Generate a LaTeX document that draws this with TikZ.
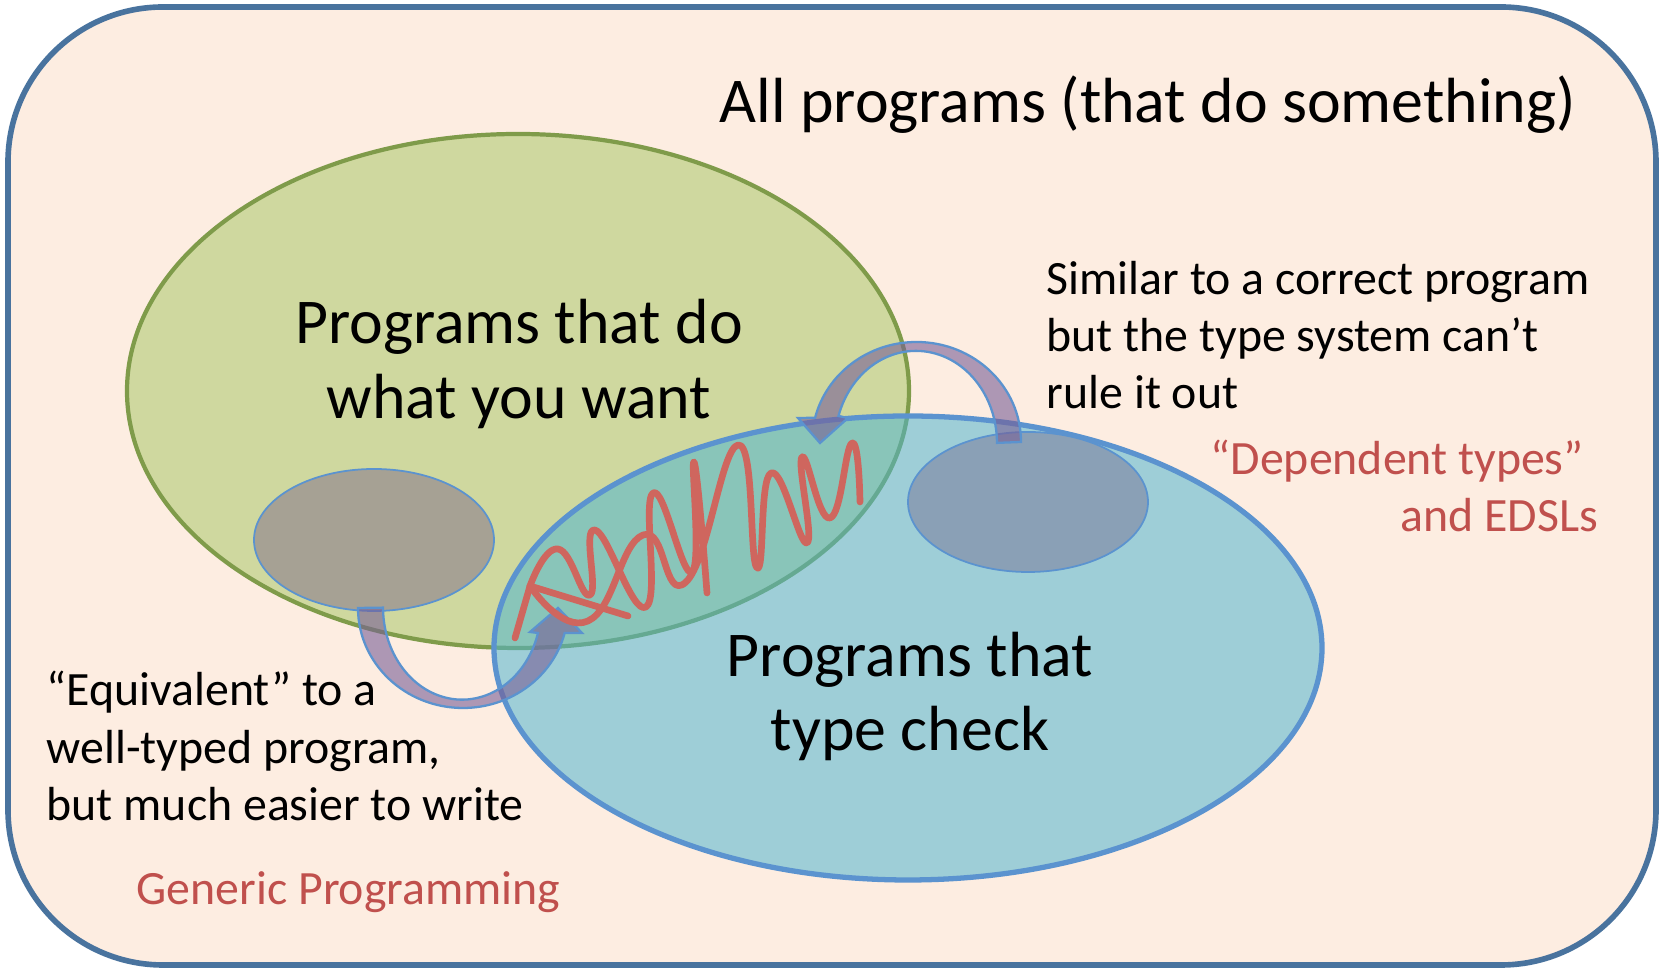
\documentclass[tikz,border=0pt]{standalone}
\usepackage{fontspec}
\setmainfont{Carlito}
\definecolor{bgfill}{RGB}{253,237,225}
\definecolor{bgline}{RGB}{73,115,158}
\definecolor{grfill}{RGB}{207,216,159}
\definecolor{grline}{RGB}{127,155,74}
\definecolor{blfill}{RGB}{79,181,208}
\definecolor{blline}{RGB}{91,147,207}
\definecolor{gyfill}{RGB}{166,161,148}
\definecolor{rtfill}{RGB}{138,160,182}
\definecolor{arfill}{RGB}{120,95,150}
\definecolor{scr}{RGB}{207,102,94}
\definecolor{redtext}{RGB}{192,80,77}
\begin{document}
\begin{tikzpicture}[x=0.01cm,y=-0.01cm,
  bigtxt/.style={font=\fontsize{18.15}{21.8}\selectfont, inner sep=0pt},
  smalltxt/.style={font=\fontsize{13.6}{16.3}\selectfont, inner sep=0pt},
  redlabel/.style={smalltxt, text=redtext},
  arrowshape/.style={fill=arfill, fill opacity=0.6, draw=blline, line width=0.65pt, line join=miter},
  scribble/.style={draw=scr, line width=1.9pt, line cap=round, line join=round}]
\useasboundingbox (0,0) rectangle (1659,968);
% outer frame
\draw[fill=bgfill, draw=bgline, line width=1.6pt, rounded corners=1.55cm] (8,7) rectangle (1656,965);
% green ellipse
\draw[fill=grfill, draw=grline, line width=1.2pt] (518,391) ellipse [x radius=391, y radius=257];
% left small ellipse
\draw[fill=gyfill, draw=blline, line width=0.5pt] (374,540) ellipse [x radius=120, y radius=71];
% blue ellipse
\fill[blfill, fill opacity=0.54] (908,648) ellipse [x radius=414, y radius=232];
\draw[blline, line width=1.5pt] (908,648) ellipse [x radius=414, y radius=232];
% right small ellipse
\draw[fill=rtfill, draw=blline, line width=0.5pt] (1028,502) ellipse [x radius=120, y radius=70];
% top curved arrow
\draw[arrowshape] (1021,442) arc[start angle=0, end angle=-166, x radius=104.5, y radius=100]
  -- (798,418) -- (820,443) -- (848,418) -- (838.5,416)
  arc[start angle=-163, end angle=0, x radius=81, y radius=92] -- cycle;
% bottom curved arrow
\draw[arrowshape] (358,608) arc[start angle=180, end angle=14.5, x radius=105, y radius=100]
  -- (582,633) -- (558,608) -- (530,632) -- (538,633)
  arc[start angle=16, end angle=180, x radius=79, y radius=92] -- cycle;
% scribble
\draw[scribble] (515,638) -- (530,586) -- (628,616);
\draw[scribble] plot[smooth, tension=0.85] coordinates {(530,586) (558,549) (590,595) (595,530) (646,607) (653,493) (692,572) (694,462) (707,593)};
\draw[scribble] plot[smooth, tension=0.85] coordinates {(530,586) (588,621) (643,535) (686,582) (738,445) (757,568) (771,473) (807,543) (802,457) (830,518) (852,443) (860,502)};
% texts
\node[bigtxt, anchor=base west] (title) at (719,123) {All programs (that do something)};
\node[bigtxt, anchor=base] (want1) at (519,344) {Programs that do};
\node[bigtxt, anchor=base] (want2) at (519,419) {what you want};
\node[bigtxt, anchor=base] (tc1) at (910,677) {Programs that};
\node[bigtxt, anchor=base] (tc2) at (910,751) {type check};
\node[smalltxt, anchor=base west] (sim1) at (1046,295) {Similar to a correct program};
\node[smalltxt, anchor=base west] (sim2) at (1046,352) {but the type system can’t};
\node[smalltxt, anchor=base west] (sim3) at (1046,409) {rule it out};
\node[redlabel, anchor=base west] (dep1) at (1210,475) {“Dependent types”};
\node[redlabel, anchor=base west] (dep2) at (1400,532) {and EDSLs};
\node[smalltxt, anchor=base west] (eq1) at (46,706) {“Equivalent” to a};
\node[smalltxt, anchor=base west] (eq2) at (46,764) {well-typed program,};
\node[smalltxt, anchor=base west] (eq3) at (46,821) {but much easier to write};
\node[redlabel, anchor=base west] (gen) at (136,905) {Generic Programming};
\end{tikzpicture}
\end{document}
